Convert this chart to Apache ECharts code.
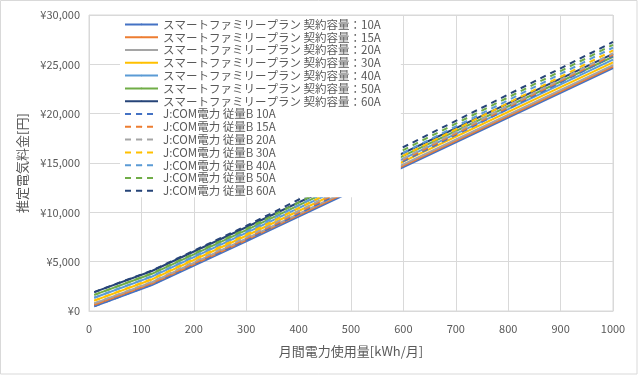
<!DOCTYPE html>
<html>
<head>
<meta charset="utf-8">
<script src="https://cdn.jsdelivr.net/npm/echarts@6/dist/echarts.min.js"></script>
<style>
html, body { margin: 0; padding: 0; background: #fff; }
#chart { width: 640px; height: 376px; }
</style>
</head>
<body>
<div id="chart"></div>
<script>
// 月間電力使用量 [kWh]
var usage = [10, 120, 300, 1000]

// スマートファミリープラン
var smart10A = [485, 2626, 7056, 24626]
var smart15A = [628, 2769, 7199, 24769]
var smart20A = [771, 2912, 7342, 24912]
var smart30A = [1057, 3198, 7628, 25198]
var smart40A = [1343, 3484, 7914, 25484]
var smart50A = [1629, 3770, 8200, 25770]
var smart60A = [1915, 4056, 8486, 26056]

// J:COM電力 従量B
var jcom10A = [485, 2672, 7186, 25836]
var jcom15A = [628, 2815, 7329, 25979]
var jcom20A = [771, 2958, 7472, 26122]
var jcom30A = [1057, 3244, 7758, 26408]
var jcom40A = [1343, 3530, 8044, 26694]
var jcom50A = [1629, 3816, 8330, 26980]
var jcom60A = [1915, 4102, 8616, 27266]

var amps = ['10A', '15A', '20A', '30A', '40A', '50A', '60A']
var smartValues = [smart10A, smart15A, smart20A, smart30A, smart40A, smart50A, smart60A]
var jcomValues = [jcom10A, jcom15A, jcom20A, jcom30A, jcom40A, jcom50A, jcom60A]

var yTicks = { min: 0, max: 30000, interval: 5000 }
var xTicks = { min: 0, max: 1000, interval: 100 }

var colors = ['#4472C4', '#ED7D31', '#A5A5A5', '#FFC000', '#5B9BD5', '#70AD47', '#264478']
var fontColor = '#595959'
var font = '"Noto Sans CJK JP", "Noto Sans", sans-serif'

function pairs(values) {
    return usage.map(function(x, i) { return [x, values[i]] })
}

function yen(v) {
    return '¥' + String(v).replace(/\B(?=(\d{3})+(?!\d))/g, ',')
}

var series = []
var names = []
amps.forEach(function(a, i) {
    var n = 'スマートファミリープラン 契約容量：' + a
    names.push(n)
    series.push({
        name: n,
        type: 'line',
        symbol: 'none',
        data: pairs(smartValues[i]),
        lineStyle: { color: colors[i], width: 2 },
        itemStyle: { color: colors[i] }
    })
})
amps.forEach(function(a, i) {
    var n = 'J:COM電力 従量B ' + a
    names.push(n)
    series.push({
        name: n,
        type: 'line',
        symbol: 'none',
        data: pairs(jcomValues[i]),
        lineStyle: { color: colors[i], width: 2, type: [6, 5] },
        itemStyle: { color: colors[i] }
    })
})

var option = {
    animation: false,
    textStyle: { fontFamily: font },
    grid: {
        left: 89,
        right: 27,
        top: 15,
        bottom: 65,
        show: true,
        borderColor: '#d9d9d9',
        borderWidth: 1
    },
    // 白い背景で線を隠す凡例
    legend: {
        orient: 'vertical',
        left: 120,
        top: 16,
        padding: [2, 20, 0, 4],
        backgroundColor: '#fff',
        itemGap: 0,
        itemWidth: 33,
        itemHeight: 2,
        textStyle: {
            color: fontColor,
            fontSize: 11.5,
            lineHeight: 12.8,
            fontFamily: font
        },
        data: names
    },
    graphic: [{
        type: 'rect',
        z: 10,
        shape: { x: 0.5, y: 0.5, width: 636.5, height: 373.5 },
        style: { fill: 'none', stroke: '#d9d9d9', lineWidth: 1 }
    }],
    xAxis: {
        type: 'value',
        min: xTicks.min,
        max: xTicks.max,
        interval: xTicks.interval,
        name: '月間電力使用量[kWh/月]',
        nameLocation: 'middle',
        nameGap: 34,
        nameTextStyle: { color: fontColor, fontSize: 13, fontFamily: font },
        axisLine: { show: true, lineStyle: { color: '#d9d9d9' } },
        axisTick: { show: false },
        axisLabel: {
            color: fontColor,
            fontSize: 11,
            margin: 12,
            formatter: function(v) { return String(v) }
        },
        splitLine: { show: true, lineStyle: { color: '#d9d9d9' } }
    },
    yAxis: {
        type: 'value',
        min: yTicks.min,
        max: yTicks.max,
        interval: yTicks.interval,
        name: '推定電気料金[円]',
        nameLocation: 'middle',
        nameGap: 60,
        nameTextStyle: { color: fontColor, fontSize: 13, fontFamily: font },
        axisLine: { show: false },
        axisTick: { show: false },
        axisLabel: { color: fontColor, fontSize: 11, margin: 9, formatter: yen },
        splitLine: { show: true, lineStyle: { color: '#d9d9d9' } }
    },
    series: series
}

var myChart = echarts.init(document.getElementById('chart'))
myChart.setOption(option)
window.addEventListener('resize', function() {
    myChart.resize()
})
</script>
</body>
</html>
